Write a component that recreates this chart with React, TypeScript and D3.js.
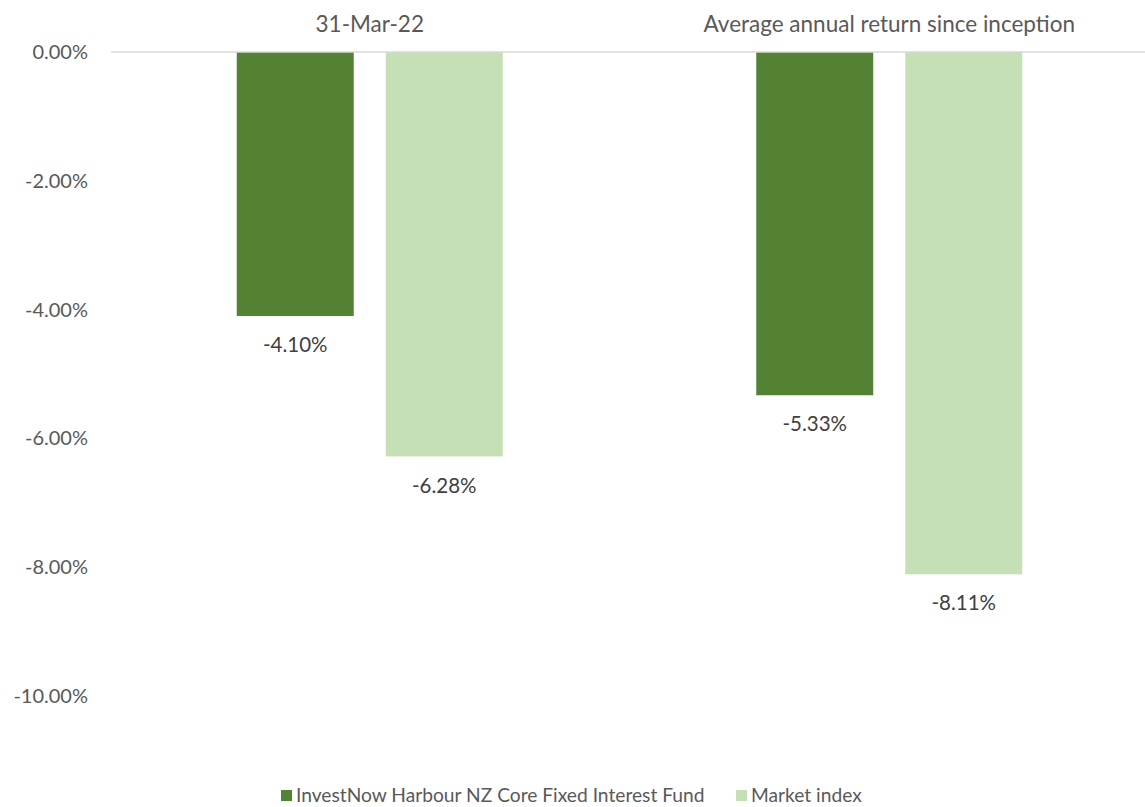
import { useEffect, useRef } from 'react';
import * as d3 from 'd3';

const categories = ['31-Mar-22', 'Average annual return since inception'];
const seriesNames = ['InvestNow Harbour NZ Core Fixed Interest Fund', 'Market index'];
const fundValues = [-4.1, -5.33];
const indexValues = [-6.28, -8.11];
const yTicks = [0, -2, -4, -6, -8, -10];
const colors = ['#548235', '#C5E0B4'];

const pct = (v: number) => v.toFixed(2) + '%';

export default function App() {
  const ref = useRef<SVGSVGElement>(null);

  useEffect(() => {
    if (!ref.current) return;
    const svg = d3.select(ref.current);
    svg.selectAll('*').remove();

    const width = 1145;
    const height = 807;
    const font = 'Lato, "Open Sans", sans-serif';
    const textColor = '#595959';

    const y = d3.scaleLinear().domain([-10, 0]).range([696, 52]);

    const x0 = d3.scaleBand<string>().domain(categories).range([110, 1149]);
    const groupW = 266;
    const x1 = d3.scaleBand<string>()
      .domain(seriesNames)
      .range([(x0.bandwidth() - groupW) / 2, (x0.bandwidth() + groupW) / 2])
      .paddingInner(0.215);

    // y tick labels
    svg.append('g')
      .selectAll('text')
      .data(yTicks)
      .enter()
      .append('text')
      .attr('x', 88)
      .attr('y', d => y(d))
      .attr('dy', '0.35em')
      .attr('text-anchor', 'end')
      .attr('font-family', font)
      .attr('font-size', 20)
      .attr('fill', textColor)
      .text(d => pct(d));

    // category labels on top
    svg.append('g')
      .selectAll('text')
      .data(categories)
      .enter()
      .append('text')
      .attr('x', d => (x0(d) || 0) + x0.bandwidth() / 2)
      .attr('y', 24)
      .attr('dy', '0.35em')
      .attr('text-anchor', 'middle')
      .attr('font-family', font)
      .attr('font-size', 22.5)
      .attr('fill', textColor)
      .text(d => d);

    const rows = categories.map((c, i) => ({
      category: c,
      values: [
        { series: seriesNames[0], value: fundValues[i], color: colors[0] },
        { series: seriesNames[1], value: indexValues[i], color: colors[1] },
      ],
    }));

    const groups = svg.append('g')
      .selectAll('g')
      .data(rows)
      .enter()
      .append('g')
      .attr('transform', d => `translate(${x0(d.category)},0)`);

    groups.selectAll('rect')
      .data(d => d.values)
      .enter()
      .append('rect')
      .attr('x', d => x1(d.series) || 0)
      .attr('y', y(0))
      .attr('width', x1.bandwidth())
      .attr('height', d => y(d.value) - y(0))
      .attr('fill', d => d.color);

    groups.selectAll('text')
      .data(d => d.values)
      .enter()
      .append('text')
      .attr('x', d => (x1(d.series) || 0) + x1.bandwidth() / 2)
      .attr('y', d => y(d.value) + 29)
      .attr('dy', '0.35em')
      .attr('text-anchor', 'middle')
      .attr('font-family', font)
      .attr('font-size', 20.5)
      .attr('fill', '#404040')
      .text(d => pct(d.value));

    // zero axis line
    svg.append('line')
      .attr('x1', 111)
      .attr('x2', width)
      .attr('y1', y(0))
      .attr('y2', y(0))
      .attr('stroke', '#D9D9D9')
      .attr('stroke-width', 1.5);

    // legend
    const legendX = [281, 736];
    const legend = svg.append('g')
      .selectAll('g')
      .data(seriesNames)
      .enter()
      .append('g')
      .attr('transform', (_, i) => `translate(${legendX[i]},${height - 17})`);

    legend.append('rect')
      .attr('x', 0)
      .attr('y', 0)
      .attr('width', 11)
      .attr('height', 11)
      .attr('fill', (_, i) => colors[i]);

    legend.append('text')
      .attr('x', 15)
      .attr('y', 5)
      .attr('dy', '0.35em')
      .attr('font-family', font)
      .attr('font-size', 19.2)
      .attr('fill', textColor)
      .text(d => d);
  }, []);

  return (
    <svg
      ref={ref}
      width={1145}
      height={807}
      style={{ position: 'absolute', left: 0, top: 0, background: '#fff' }}
    />
  );
}
